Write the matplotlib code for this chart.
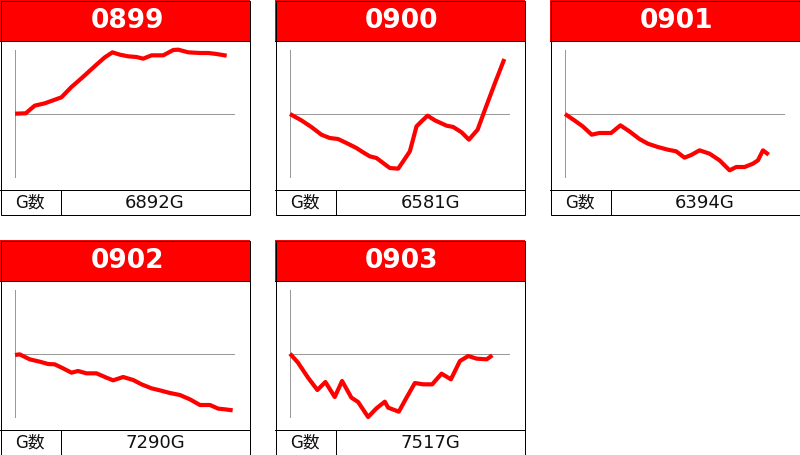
import matplotlib
matplotlib.use("Agg")
import matplotlib.pyplot as plt
from matplotlib.patches import Rectangle

titles = ["0899", "0900", "0901", "0902", "0903"]
games = ["6892G", "6581G", "6394G", "7290G", "7517G"]
footer_label = "G数"

x0899 = [0, 32, 59, 89, 114, 139, 169, 199, 244, 269, 292, 314, 339, 364, 384, 409, 444, 474, 489, 519, 554, 579, 604, 634]
y0899 = [1, 2, 25, 32, 41, 50, 81, 107, 148, 170, 185, 178, 173, 171, 166, 176, 176, 192, 193, 185, 183, 183, 180, 175]

x0900 = [0, 34, 64, 94, 119, 144, 169, 199, 219, 239, 259, 279, 299, 324, 339, 359, 379, 394, 412, 434, 469, 489, 514, 536, 562, 584, 614, 642]
y0900 = [0, -19, -39, -62, -72, -75, -87, -102, -115, -127, -132, -147, -162, -164, -142, -112, -37, -22, -5, -19, -35, -39, -55, -77, -47, 13, 93, 165]

x0901 = [0, 28, 53, 80, 103, 138, 166, 193, 223, 248, 278, 308, 333, 358, 378, 403, 433, 463, 493, 513, 538, 563, 578, 593, 610]
y0901 = [0, -19, -37, -62, -57, -57, -34, -52, -75, -89, -99, -107, -112, -131, -123, -109, -119, -139, -169, -159, -159, -149, -139, -109, -122]

x0902 = [0, 14, 44, 74, 99, 119, 144, 169, 189, 214, 244, 274, 294, 324, 354, 379, 409, 434, 464, 494, 524, 554, 584, 609, 629, 652]
y0902 = [-3, -1, -16, -23, -30, -31, -43, -56, -51, -58, -58, -71, -79, -69, -78, -91, -103, -109, -117, -123, -136, -153, -153, -164, -166, -169]

x0903 = [0, 24, 54, 82, 106, 134, 156, 184, 204, 234, 259, 284, 294, 326, 349, 374, 399, 426, 454, 482, 509, 534, 559, 589, 606]
y0903 = [1, -26, -71, -108, -84, -129, -81, -131, -144, -189, -163, -143, -161, -173, -131, -87, -91, -91, -59, -76, -21, -6, -14, -16, -4]

series = [(x0899, y0899), (x0900, y0900), (x0901, y0901), (x0902, y0902), (x0903, y0903)]

W, H = 800, 455
fig = plt.figure(figsize=(8, 4.55), dpi=100)
bg = fig.add_axes([0, 0, 1, 1])
bg.set_xlim(0, W)
bg.set_ylim(H, 0)
bg.axis("off")

PX = 0.72  # 1 pixel in points
origins = [(0, 0), (275, 0), (550, 0), (0, 240), (275, 240)]

for i, (px, py) in enumerate(origins):
    # header
    bg.add_patch(Rectangle((px, py), 250, 40.5, facecolor="#ff0000", edgecolor="none", zorder=1))
    # outer border
    bg.add_patch(Rectangle((px + 0.5, py + 0.5), 249, 214, facecolor="none",
                           edgecolor="black", linewidth=PX, zorder=3))
    bg.plot([px, px + 250], [py + 40.5, py + 40.5], color="black", lw=PX, zorder=3)
    bg.plot([px, px + 250], [py + 189.5, py + 189.5], color="black", lw=PX, zorder=3)
    bg.plot([px + 60.5, px + 60.5], [py + 189.5, py + 215], color="black", lw=PX, zorder=3)
    bg.text(px + 127, py + 21, titles[i], color="white", fontsize=19, fontweight="bold",
            family="DejaVu Sans", ha="center", va="center", zorder=4)
    bg.text(px + 30, py + 202.5, footer_label, color="#111111", fontsize=12,
            family=["DejaVu Sans", "Noto Sans CJK JP"], ha="center", va="center", zorder=4)
    bg.text(px + 155, py + 202.5, games[i], color="#111111", fontsize=13,
            family="DejaVu Sans", ha="center", va="center", zorder=4)

    # chart axes: left px+15, right px+235, top py+50, bottom py+178
    left = (px + 15) / W
    bottom = 1 - (py + 178) / H
    ax = fig.add_axes([left, bottom, 220 / W, 128 / H])
    ax.set_xlim(0, 659)
    ax.set_ylim(-192, 192)
    ax.axis("off")
    ax.axvline(0, color="#999999", lw=PX, zorder=1)
    ax.axhline(0, color="#999999", lw=PX, zorder=1)
    xs, ys = series[i]
    ax.plot(xs, ys, color="#ff0000", lw=3, solid_joinstyle="round",
            solid_capstyle="butt", clip_on=False, zorder=2)

fig.savefig("out.png", dpi=100)
